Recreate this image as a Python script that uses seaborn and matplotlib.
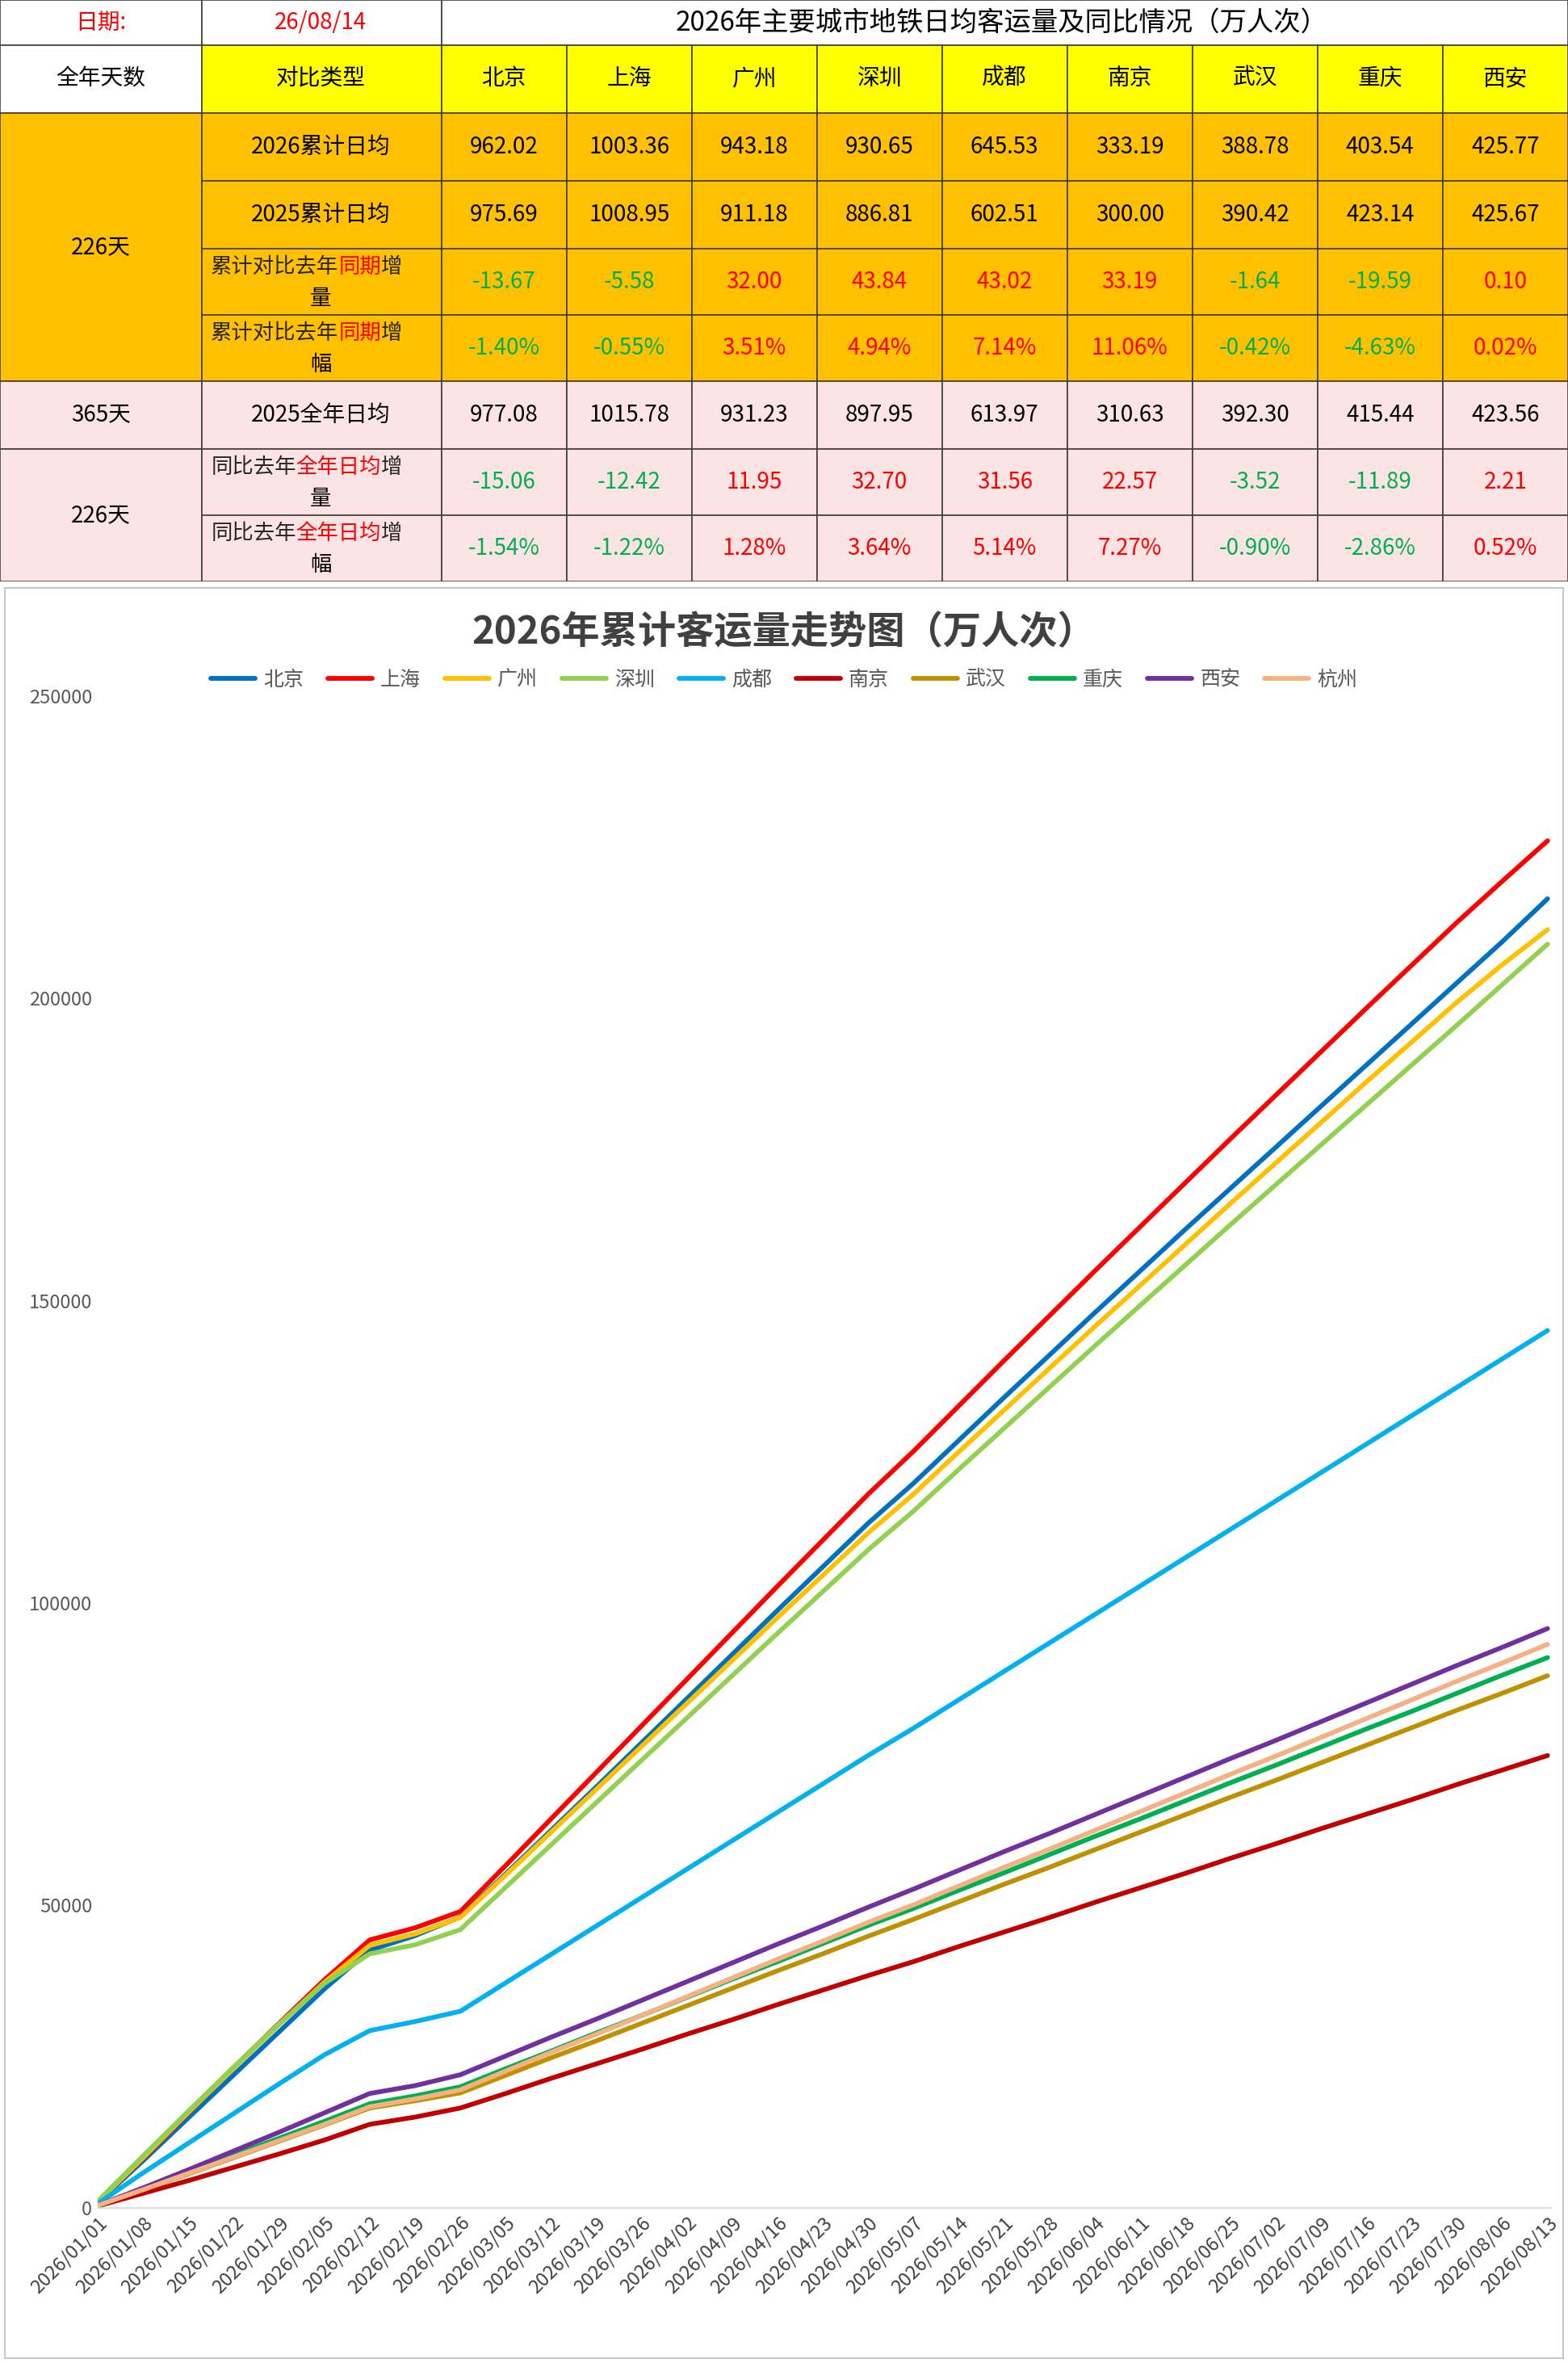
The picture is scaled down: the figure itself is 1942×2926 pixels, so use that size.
import matplotlib.pyplot as plt
import matplotlib.patches as patches
import pandas as pd
import seaborn as sns

# ---- table data ----
cities = ["北京", "上海", "广州", "深圳", "成都", "南京", "武汉", "重庆", "西安"]
avg_2026 = ["962.02", "1003.36", "943.18", "930.65", "645.53", "333.19", "388.78", "403.54", "425.77"]
avg_2025 = ["975.69", "1008.95", "911.18", "886.81", "602.51", "300.00", "390.42", "423.14", "425.67"]
diff_same = ["-13.67", "-5.58", "32.00", "43.84", "43.02", "33.19", "-1.64", "-19.59", "0.10"]
pct_same = ["-1.40%", "-0.55%", "3.51%", "4.94%", "7.14%", "11.06%", "-0.42%", "-4.63%", "0.02%"]
avg_2025_full = ["977.08", "1015.78", "931.23", "897.95", "613.97", "310.63", "392.30", "415.44", "423.56"]
diff_full = ["-15.06", "-12.42", "11.95", "32.70", "31.56", "22.57", "-3.52", "-11.89", "2.21"]
pct_full = ["-1.54%", "-1.22%", "1.28%", "3.64%", "5.14%", "7.27%", "-0.90%", "-2.86%", "0.52%"]

# ---- cumulative chart data (weekly) ----
dates = pd.date_range("2026-01-01", "2026-08-13", freq="7D")
cum = {
    "北京": [900, 7800, 14900, 22000, 29100, 36200, 42600, 45000, 48100, 55200, 62400, 69600, 76900, 84200, 91500,
           98800, 106000, 113200, 119800, 126900, 134000, 141000, 148000, 154900, 161800, 168600, 175400, 182200,
           189000, 195800, 202600, 209400, 216500],
    "上海": [1000, 8200, 15700, 23200, 30500, 37700, 44300, 46300, 49000, 56600, 64300, 72000, 79700, 87400, 95100,
           102800, 110400, 118000, 125100, 132600, 140100, 147500, 154900, 162200, 169500, 176800, 184000, 191200,
           198400, 205500, 212600, 219400, 226100],
    "广州": [1000, 8300, 15800, 23100, 30300, 37300, 43400, 45300, 48000, 55000, 62100, 69200, 76300, 83400, 90500,
           97600, 104600, 111600, 118000, 125000, 131900, 138800, 145700, 152500, 159300, 166100, 172800, 179500,
           186200, 192800, 199400, 205600, 211400],
    "深圳": [1100, 8600, 16000, 23300, 30400, 37100, 42000, 43500, 46000, 53000, 60000, 67000, 74000, 81000, 88000,
           95000, 101900, 108800, 115200, 122100, 128900, 135700, 142500, 149200, 155900, 162600, 169200, 175800,
           182400, 189000, 195600, 202300, 209000],
    "成都": [700, 5800, 10700, 15600, 20500, 25300, 29300, 30800, 32500, 37200, 41900, 46600, 51300, 56000, 60700,
           65400, 70100, 74800, 79300, 84000, 88700, 93400, 98100, 102800, 107500, 112200, 116900, 121600,
           126300, 131000, 135700, 140400, 145100],
    "南京": [300, 2400, 4500, 6700, 8900, 11200, 13800, 15000, 16500, 18900, 21400, 23800, 26200, 28700, 31100,
           33600, 36000, 38400, 40700, 43200, 45600, 48000, 50500, 52900, 55300, 57800, 60200, 62700,
           65100, 67500, 70000, 72400, 74800],
    "武汉": [400, 3000, 5600, 8300, 11000, 13700, 16500, 17700, 19000, 21900, 24800, 27600, 30500, 33400, 36300,
           39200, 42000, 44900, 47700, 50600, 53500, 56300, 59200, 62100, 65000, 67900, 70700, 73600,
           76500, 79400, 82300, 85100, 88000],
    "重庆": [400, 3100, 5900, 8700, 11500, 14300, 17200, 18500, 20000, 23000, 25900, 28900, 31800, 34800, 37800,
           40700, 43700, 46700, 49500, 52500, 55400, 58400, 61400, 64300, 67300, 70300, 73200, 76200,
           79200, 82100, 85100, 88100, 91000],
    "西安": [400, 3300, 6300, 9400, 12500, 15700, 18900, 20200, 22000, 25100, 28200, 31200, 34300, 37400, 40500,
           43600, 46600, 49700, 52700, 55800, 58900, 61900, 65000, 68100, 71200, 74300, 77300, 80400,
           83500, 86600, 89700, 92700, 95800],
    "杭州": [400, 3000, 5700, 8400, 11100, 13800, 16700, 18000, 19500, 22600, 25700, 28700, 31800, 34900, 38000,
           41100, 44100, 47200, 50100, 53200, 56300, 59300, 62400, 65500, 68600, 71700, 74700, 77800,
           80900, 84000, 87100, 90100, 93200],
}
palette = {"北京": "#0070C0", "上海": "#FF0000", "广州": "#FFC000", "深圳": "#92D050", "成都": "#00B0F0",
           "南京": "#C00000", "武汉": "#BF9000", "重庆": "#00B050", "西安": "#7030A0", "杭州": "#F4B183"}

sns.set_theme(style="white")
plt.rcParams["font.family"] = ["Noto Sans CJK SC", "DejaVu Sans"]

W, H = 1041, 1568
fig = plt.figure(figsize=(19.42, 29.26), dpi=100)

# ---------------- table ----------------
T = 386
axt = fig.add_axes([0, 1 - T / H, 1, T / H])
axt.set_xlim(0, W)
axt.set_ylim(T, 0)
axt.axis("off")

col_x = [0, 134, 293] + [293 + 83.1 * (i + 1) for i in range(9)]
row_y = [0, 30, 75, 120, 165, 209, 253, 298, 342, 386]
fs = 20


def cell(x0, x1, y0, y1, color):
    axt.add_patch(patches.Rectangle((x0, y0), x1 - x0, y1 - y0, facecolor=color,
                                    edgecolor="#404040", linewidth=1.2))


def txt(x, y, s, color="black", size=fs, **kw):
    axt.text(x, y, s, ha="center", va="center", fontsize=size, color=color, **kw)


# title row
cell(0, 134, 0, 30, "white")
cell(134, 293, 0, 30, "white")
cell(293, W, 0, 30, "white")
txt(67, 15, "日期:", color="#FF0000")
txt(213, 15, "26/08/14", color="#FF0000")
txt(665, 15, "2026年主要城市地铁日均客运量及同比情况（万人次）", size=24)

# header row
cell(0, 134, 30, 75, "white")
txt(67, 52, "全年天数")
cell(134, 293, 30, 75, "#FFFF00")
txt(213, 52, "对比类型")
for i, c in enumerate(cities):
    cell(col_x[i + 2], col_x[i + 3], 30, 75, "#FFFF00")
    txt((col_x[i + 2] + col_x[i + 3]) / 2, 52, c)

orange, pink = "#FFC000", "#FCE4E4"
cell(0, 134, 75, 253, orange)
txt(67, 164, "226天")
cell(0, 134, 253, 298, pink)
txt(67, 275, "365天")
cell(0, 134, 298, 386, pink)
txt(67, 342, "226天")

rows = [
    (["2026累计日均"], avg_2026, orange, False),
    (["2025累计日均"], avg_2025, orange, False),
    (["累计对比去年", "同期", "增", "量"], diff_same, orange, True),
    (["累计对比去年", "同期", "增", "幅"], pct_same, orange, True),
    (["2025全年日均"], avg_2025_full, pink, False),
    (["同比去年", "全年日均", "增", "量"], diff_full, pink, True),
    (["同比去年", "全年日均", "增", "幅"], pct_full, pink, True),
]
for r, (label, vals, bg, signed) in enumerate(rows):
    y0, y1 = row_y[r + 2], row_y[r + 3]
    ym = (y0 + y1) / 2
    cell(134, 293, y0, y1, bg)
    if len(label) == 1:
        txt(213, ym, label[0])
    else:
        pre, red, post, last = label
        t1 = axt.text(140, ym - 10, pre, ha="left", va="center", fontsize=fs - 1)
        t2 = axt.annotate(red, xycoords=t1, xy=(1, 0.5), va="center", fontsize=fs - 1, color="#FF0000")
        axt.annotate(post, xycoords=t2, xy=(1, 0.5), va="center", fontsize=fs - 1)
        txt(213, ym + 11, last, size=fs - 1)
    for i, v in enumerate(vals):
        cell(col_x[i + 2], col_x[i + 3], y0, y1, bg)
        color = "black"
        if signed:
            color = "#00B050" if v.startswith("-") else "#FF0000"
        txt((col_x[i + 2] + col_x[i + 3]) / 2, ym, v, color=color)

# ---------------- chart ----------------
frame = fig.add_axes([3 / W, 1 - 1565 / H, 1035 / W, (1565 - 390) / H])
frame.set_xticks([])
frame.set_yticks([])
for s in frame.spines.values():
    s.set_color("#BFBFBF")
frame.patch.set_alpha(0)

ax = fig.add_axes([65 / W, 1 - 1465 / H, (1030 - 65) / W, (1465 - 462) / H])
df = pd.DataFrame(
    [(d, c, v) for c, vs in cum.items() for d, v in zip(dates, vs)],
    columns=["date", "city", "value"],
)
sns.lineplot(data=df, x="date", y="value", hue="city", palette=palette, linewidth=4.2, ax=ax, legend=False)
ax.set_ylim(0, 250000)
ax.set_xlim(dates[0], dates[-1] + pd.Timedelta(days=0.6))
ax.set_yticks(range(0, 250001, 50000))
ax.set_yticklabels([str(v) for v in range(0, 250001, 50000)], fontsize=17, color="#595959")
ax.set_xticks(dates)
ax.set_xticklabels([d.strftime("%Y/%m/%d") for d in dates], rotation=45, ha="right",
                   fontsize=17, color="#404040", rotation_mode="anchor")
ax.set_xlabel("")
ax.set_ylabel("")
for s in ["top", "right", "left"]:
    ax.spines[s].set_visible(False)
ax.spines["bottom"].set_color("#D9D9D9")
ax.tick_params(axis="both", length=0, pad=5)
ax.patch.set_alpha(0)

fig.text(0.5, 1 - 420 / H, "2026年累计客运量走势图（万人次）", ha="center", va="center",
         fontsize=34, fontweight="bold", color="#404040")
handles = [plt.Line2D([], [], color=palette[c], linewidth=4.2) for c in palette]
fig.legend(handles, list(palette), loc="center", bbox_to_anchor=(0.5, 1 - 451 / H), ncol=10,
           frameon=False, fontsize=18, handlelength=2.2, columnspacing=1.2, handletextpad=0.4,
           labelcolor="#595959")

fig.savefig("out.png", dpi=100)
plt.close(fig)
